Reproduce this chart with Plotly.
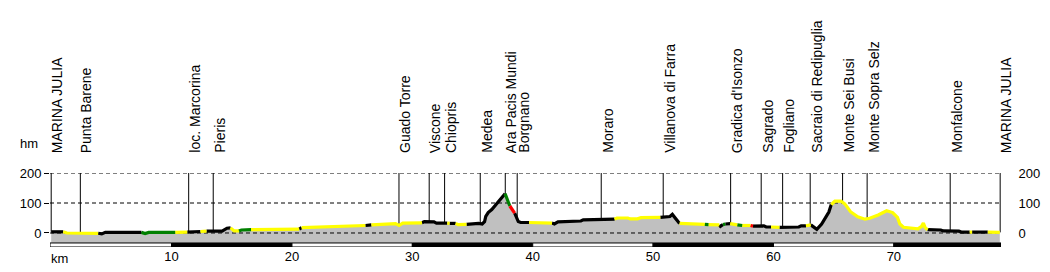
import numpy as np
import plotly.graph_objects as go

# ---------------- data ----------------
dist = [0.0, 1.0, 1.3, 3.9, 4.2, 4.5, 7.5, 7.8, 8.1, 10.3, 11.3, 12.4, 12.9, 14.2, 14.6,
        14.9, 15.2, 15.6, 15.8, 16.6, 20.6, 20.8, 24.8, 26.1, 26.6, 28.6, 28.9, 29.2,
        30.8, 31.0, 31.8, 32.0, 32.9, 33.1, 33.6, 33.8, 34.5, 35.5, 35.8, 36.0, 36.1,
        36.3, 36.6, 37.0, 37.4, 37.6, 37.7, 38.1, 38.5, 38.8, 39.0, 39.7, 41.6, 41.8,
        42.1, 44.0, 44.2,
        46.8, 47.0, 47.9, 48.1, 48.7, 49.0, 50.6, 51.4, 51.6, 52.2, 54.3, 54.6, 55.5,
        55.6, 55.8, 56.0, 56.4, 57.0, 57.4, 58.1, 58.3, 59.2, 59.4, 59.8, 60.5, 62.1,
        62.3, 62.7, 63.1, 63.6, 64.0, 64.3, 64.6, 64.8, 65.1, 65.6, 65.9, 66.1, 66.4,
        67.0, 67.6, 68.0, 68.7, 69.4, 69.9, 70.3, 70.5, 70.8, 72.0, 72.3, 72.45, 72.6,
        72.8, 73.9, 74.1, 75.4, 75.6, 76.3, 76.5, 77.8, 78.8]
elev = [4, 4, 0, -1, -3, 2, 2, -2, 2, 2, 3, 5, 6, 6, 16,
        17, 7, 7, 10, 11, 13, 18, 23, 25, 27, 31, 25, 33,
        34, 38, 37, 33, 33, 32, 32, 28, 29, 32, 30, 38, 55,
        68, 78, 98, 120, 129, 131, 90, 66, 38, 35, 35, 33, 30,
        37, 40, 44,
        46, 50, 50, 47, 47, 51, 52, 55, 62, 32, 29, 28, 27,
        22, 28, 30, 31, 27, 25, 25, 23, 24, 20, 20, 19, 20,
        24, 24, 27, 12, 30, 48, 70, 95, 106, 106, 98, 88, 71,
        54, 46, 49, 60, 74, 68, 52, 30, 19, 14, 22, 33, 18,
        11, 10, 7, 6, 3, 3, 3, 3, 2]
# surface type of the segment that starts at each point
surface = ["K", "Y", "Y", "K", "K", "K", "G", "G", "G", "Y", "K", "Y", "K", "K", "K",
           "Y", "Y", "G", "G", "Y", "K", "Y", "Y", "K", "Y", "Y", "Y", "Y",
           "K", "K", "K", "K", "Y", "K", "Y", "Y", "K", "K", "K", "K", "K",
           "K", "K", "K", "K", "K", "G", "R", "K", "K", "K", "Y", "K", "K",
           "K", "K", "K",
           "Y", "Y", "Y", "Y", "Y", "Y", "K", "K", "K", "Y", "G", "Y", "K",
           "K", "G", "K", "Y", "G", "Y", "R", "K", "K", "K", "Y", "K", "K",
           "K", "Y", "K", "K", "K", "K", "K", "Y", "Y", "Y", "Y", "Y", "Y",
           "Y", "Y", "Y", "Y", "Y", "Y", "Y", "Y", "Y", "Y", "Y", "Y", "Y",
           "K", "K", "K", "K", "K", "Y", "K", "Y", "Y"]

place_names = ["MARINA JULIA", "Punta Barene", "loc. Marcorina", "Pieris", "Guado Torre",
               "Viscone", "Chiopris", "Medea", "Ara Pacis Mundi", "Borgnano", "Moraro",
               "Villanova di Farra", "Gradica d'Isonzo", "Sagrado", "Fogliano",
               "Sacraio di Redipuglia", "Monte Sei Busi", "Monte Sopra Selz",
               "Monfalcone", "MARINA JULIA"]
place_km = [0.0, 2.42, 11.42, 13.46, 28.89, 31.40, 32.68, 35.64, 37.72, 38.71, 45.69,
            50.84, 56.44, 58.98, 60.76, 63.05, 65.74, 67.78, 74.68, 78.83]

y_ticks = [0, 100, 200]
x_ticks = [10, 20, 30, 40, 50, 60, 70]
x_ticklabels = ["10", "20", "30", "40", "50", "60", "70"]
bar_starts = [0, 10, 20, 30, 40, 50, 60, 70]

# ---------------- styling ----------------
X_RANGE = [-0.1, 78.9]
Y_RANGE = [-46.7, 200]
FILL_BASE = -33.3
PLOT_H = 74
LABEL_BASE = 1 + 19 / PLOT_H      # paper y of label bottoms
FONT = "Liberation Sans, Arial, sans-serif"
COLORS = {"K": "#000000", "Y": "#ffff00", "G": "#008000", "R": "#ff0000"}

fig = go.Figure()

# grey profile area
fig.add_trace(go.Scatter(
    x=[dist[0]] + dist + [dist[-1]],
    y=[FILL_BASE] + elev + [FILL_BASE],
    fill="toself", fillcolor="#c0c0c0", mode="lines",
    line=dict(width=0, color="#c0c0c0"), hoverinfo="skip", showlegend=False))

# dashed grid lines
gx, gy = [], []
for v in y_ticks:
    gx += [X_RANGE[0], X_RANGE[1], None]
    gy += [v, v, None]
fig.add_trace(go.Scatter(x=gx, y=gy, mode="lines",
                         line=dict(color="black", width=1, dash="4px,3px"),
                         hoverinfo="skip", showlegend=False))

# place marker lines
mx, my = [], []
for k in place_km:
    e = float(np.interp(k, dist, elev))
    mx += [k, k, None]
    my += [e, y_ticks[-1], None]
fig.add_trace(go.Scatter(x=mx, y=my, mode="lines", line=dict(color="black", width=1),
                         hoverinfo="skip", showlegend=False))

# coloured profile line
for code in ["K", "Y", "G", "R"]:
    xs, ys = [], []
    i = 0
    n = len(dist) - 1
    while i < n:
        if surface[i] == code:
            j = i
            while j < n and surface[j] == code:
                j += 1
            xs += dist[i:j + 1] + [None]
            ys += elev[i:j + 1] + [None]
            i = j
        else:
            i += 1
    fig.add_trace(go.Scatter(x=xs, y=ys, mode="lines",
                             line=dict(color=COLORS[code], width=3.2),
                             hoverinfo="skip", showlegend=False))

# invisible trace for the right axis
fig.add_trace(go.Scatter(x=[X_RANGE[0]], y=[0], yaxis="y2", mode="markers",
                         marker=dict(opacity=0), hoverinfo="skip", showlegend=False))

# place labels
for name, k in zip(place_names, place_km):
    fig.add_annotation(x=k, y=LABEL_BASE, xref="x", yref="paper", text=name,
                       textangle=-90, xanchor="left", yanchor="bottom", xshift=-3,
                       showarrow=False, font=dict(family=FONT, size=14, color="black"),
                       borderpad=0)

# distance bar
shapes = []
for i, s in enumerate(bar_starts):
    x0 = max(s, X_RANGE[0]) if i > 0 else X_RANGE[0]
    x1 = min(s + 10, X_RANGE[1]) if i < len(bar_starts) - 1 else X_RANGE[1]
    shapes.append(dict(type="rect", xref="x", yref="y", x0=x0, x1=x1,
                       y0=Y_RANGE[0], y1=FILL_BASE,
                       fillcolor="black" if i % 2 else "white",
                       line=dict(color="black", width=1), layer="above"))

fig.add_annotation(x=0, y=0, xref="paper", yref="paper", text="km",
                   xanchor="left", yanchor="top", yshift=-2, xshift=-1,
                   showarrow=False, font=dict(family=FONT, size=13, color="black"))
fig.add_annotation(x=-32 / 951, y=1 + 30 / PLOT_H, xref="paper", yref="paper", text="hm",
                   xanchor="left", yanchor="middle",
                   showarrow=False, font=dict(family=FONT, size=13, color="black"))

fig.update_layout(
    width=1050, height=272,
    margin=dict(l=50, r=49, t=173, b=25, pad=0, autoexpand=False),
    paper_bgcolor="white", plot_bgcolor="white",
    shapes=shapes,
    showlegend=False,
    xaxis=dict(range=X_RANGE, tickvals=x_ticks, ticktext=x_ticklabels, ticks="",
               showgrid=False, zeroline=False, showline=False, automargin=False,
               tickfont=dict(family=FONT, size=13, color="black")),
    yaxis=dict(range=Y_RANGE, tickvals=y_ticks, ticks="outside", ticklen=5,
               tickcolor="black", showgrid=False, zeroline=False, showline=False,
               automargin=False,
               tickfont=dict(family=FONT, size=13, color="black")),
    yaxis2=dict(range=Y_RANGE, tickvals=y_ticks, overlaying="y", side="right",
                ticks="outside", ticklen=14, tickcolor="rgba(0,0,0,0)",
                showgrid=False, zeroline=False, showline=False, automargin=False,
                tickfont=dict(family=FONT, size=13, color="black")),
)

fig.write_html("out.html")
